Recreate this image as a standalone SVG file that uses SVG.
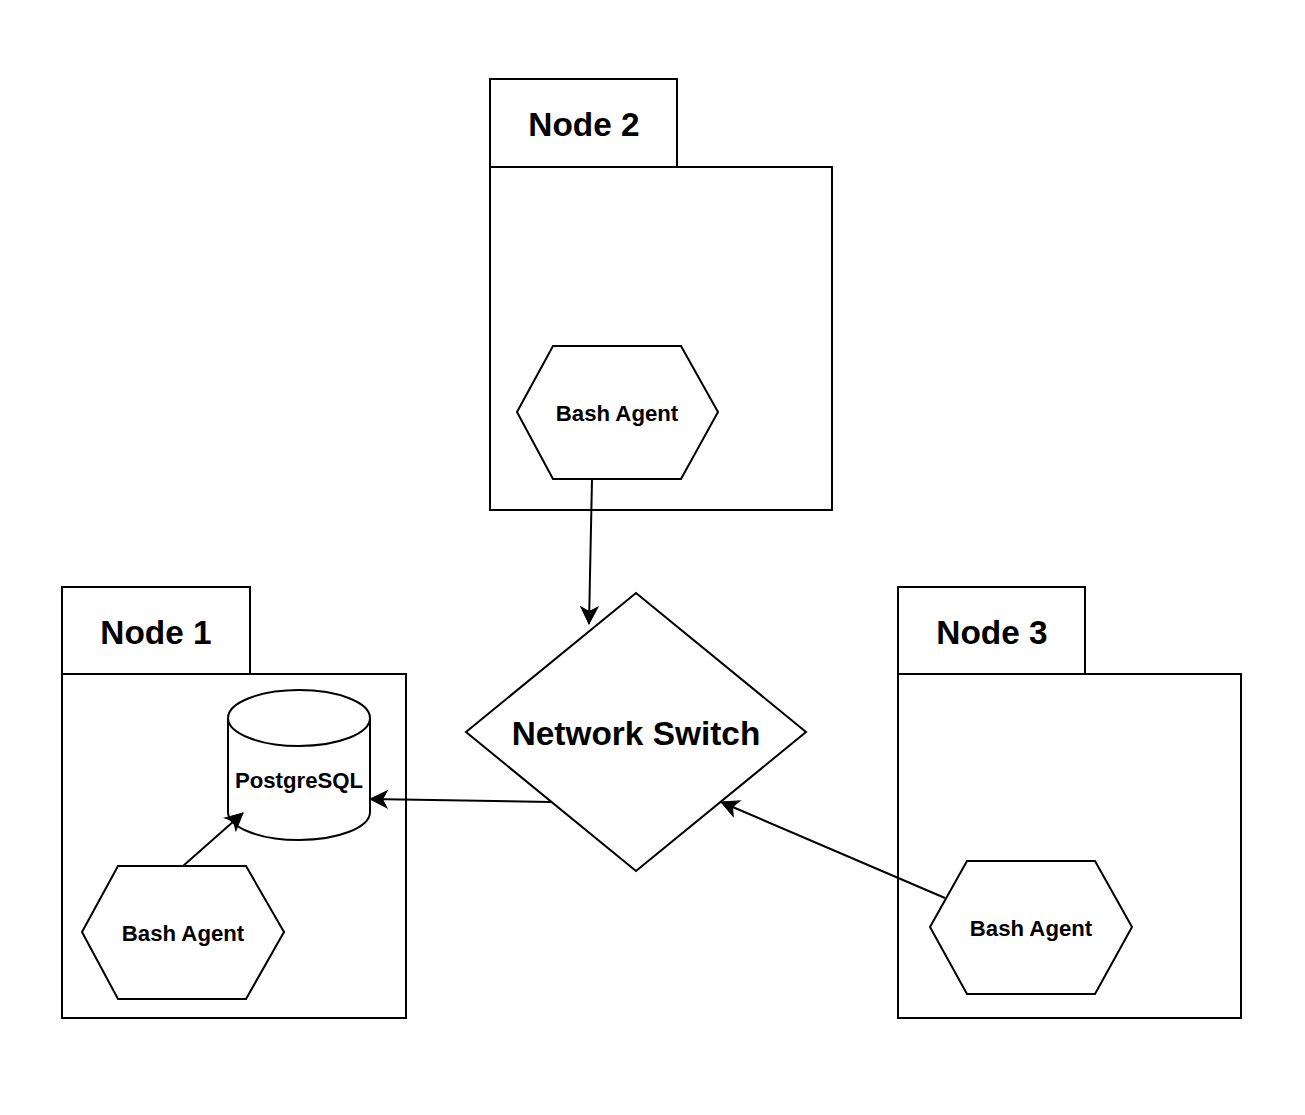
<svg xmlns="http://www.w3.org/2000/svg" width="1305" height="1115" viewBox="0 0 1305 1115">
<style>
.s{fill:#fff;stroke:#000;stroke-width:2}
.big{font-family:"Liberation Sans",Arial,sans-serif;font-weight:bold;font-size:33.4px;text-anchor:middle;dominant-baseline:central;fill:#000}
.sm{font-family:"Liberation Sans",Arial,sans-serif;font-weight:bold;font-size:22.2px;text-anchor:middle;dominant-baseline:central;fill:#000}
.c{fill:none;stroke:#000;stroke-width:2}
</style>
<defs>
<marker id="ah" markerUnits="userSpaceOnUse" markerWidth="24" markerHeight="24" refX="0" refY="0" orient="auto" overflow="visible">
<path d="M-17,-8.5 L0,0 L-17,8.5 L-12.5,0 Z" fill="#000" stroke="#000" stroke-width="1"/>
</marker>
</defs>
<rect width="1305" height="1115" fill="#fff"/>
<g id="node2">
<rect class="s" x="490" y="167" width="342" height="343"/>
<rect class="s" x="490" y="79" width="187" height="88"/>
<text class="big" x="584" y="124">Node 2</text>
</g>
<g id="agent2">
<polygon class="s" points="517,412 553,346 681,346 718,412 681,479 553,479"/>
<text class="sm" x="617" y="413">Bash Agent</text>
</g>
<g id="node1">
<rect class="s" x="62" y="674" width="344" height="344"/>
<rect class="s" x="62" y="587" width="188" height="87"/>
<text class="big" x="156" y="632">Node 1</text>
</g>
<g id="postgres">
<path class="s" d="M228,718 A71,28 0 0 1 370,718 L370,812 A71,28 0 0 1 228,812 Z"/>
<path class="c" d="M228,718 A71,28 0 0 0 370,718"/>
<text class="sm" x="299" y="780">PostgreSQL</text>
</g>
<g id="agent1">
<polygon class="s" points="82,932 118,866 246,866 284,932 246,999 118,999"/>
<text class="sm" x="183" y="933">Bash Agent</text>
</g>
<g id="switch">
<polygon class="s" points="636,593 806,732 636,871 466,732"/>
<text class="big" x="636" y="733">Network Switch</text>
</g>
<g id="node3">
<rect class="s" x="898" y="674" width="343" height="344"/>
<rect class="s" x="898" y="587" width="187" height="87"/>
<text class="big" x="992" y="632">Node 3</text>
</g>
<g id="agent3">
<polygon class="s" points="930,927 967,861 1095,861 1132,927 1095,994 967,994"/>
<text class="sm" x="1031" y="928">Bash Agent</text>
</g>
<g id="connectors">
<line class="c" x1="592" y1="479" x2="589" y2="624" marker-end="url(#ah)"/>
<line class="c" x1="183" y1="866" x2="243" y2="813" marker-end="url(#ah)"/>
<line class="c" x1="551" y1="802" x2="370" y2="799" marker-end="url(#ah)"/>
<line class="c" x1="945" y1="898" x2="721" y2="802" marker-end="url(#ah)"/>
</g>
</svg>
